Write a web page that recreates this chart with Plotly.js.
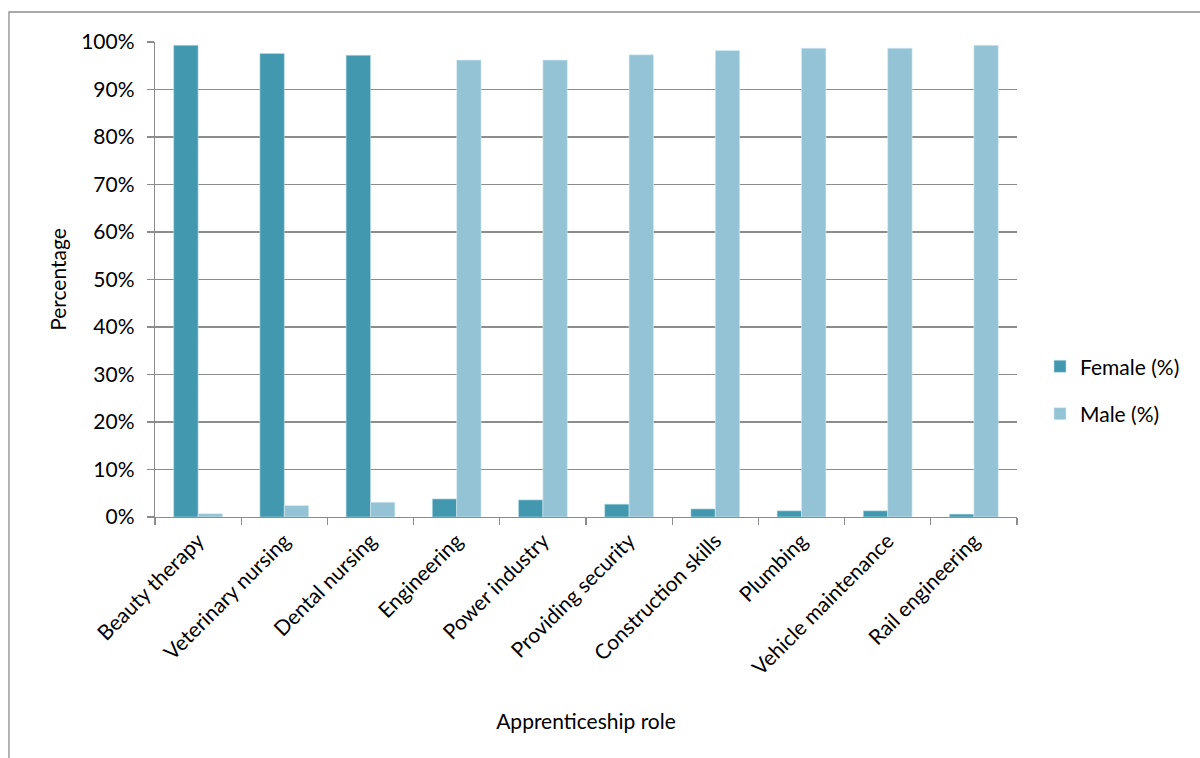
<!DOCTYPE html>
<html>
<head>
<meta charset="utf-8">
<script src="https://cdn.plot.ly/plotly-3.0.1.min.js"></script>
<style>html,body{margin:0;padding:0;background:#fff;}#chart{width:1200px;height:758px;}</style>
</head>
<body>
<div id="chart"></div>
<script>
var roles = ["Beauty therapy", "Veterinary nursing", "Dental nursing", "Engineering", "Power industry",
  "Providing security", "Construction skills", "Plumbing", "Vehicle maintenance", "Rail engineering"];
var femalePct = [99.3, 97.6, 97.2, 3.8, 3.6, 2.7, 1.7, 1.3, 1.3, 0.6];
var malePct = [0.7, 2.4, 3.1, 96.2, 96.2, 97.3, 98.2, 98.7, 98.7, 99.3];
var yTickVals = [0, 10, 20, 30, 40, 50, 60, 70, 80, 90, 100];
var yTickText = ["0%", "10%", "20%", "30%", "40%", "50%", "60%", "70%", "80%", "90%", "100%"];

var font = "Lato, 'Open Sans', sans-serif";
var fs = 21;
var grid = "#8c8c8c";

var traces = [
  {type: "bar", name: "Female (%)", x: roles, y: femalePct, legendgroup: "f",
   marker: {color: "#4198af", line: {color: "#b9dde8", width: 0.6}}},
  {type: "bar", name: "Male (%)", x: roles, y: malePct, legendgroup: "m",
   marker: {color: "#93c3d5", line: {color: "#d6ebf2", width: 0.6}}}
];

var layout = {
  width: 1200, height: 758,
  margin: {l: 155, r: 183, t: 42, b: 241},
  paper_bgcolor: "#fff", plot_bgcolor: "#fff",
  font: {family: font, size: fs, color: "#000"},
  bargap: 0.434, bargroupgap: 0,
  showlegend: true,
  legend: {x: 1.0267, y: 0.267, xanchor: "left", yanchor: "middle",
    font: {family: font, size: fs, color: "#000"}, tracegroupgap: 17,
    traceorder: "grouped", bgcolor: "rgba(0,0,0,0)"},
  xaxis: {
    type: "category", tickson: "boundaries", ticks: "outside", ticklen: 7, tickwidth: 1.3,
    tickcolor: grid, showline: true, linecolor: grid, linewidth: 1.3,
    tickangle: -45, tickfont: {family: font, size: fs}, ticklabelstandoff: 2,
    title: {text: "Apprenticeship role", font: {family: font, size: fs}, standoff: 36},
    automargin: false
  },
  yaxis: {
    range: [0, 100], tickvals: yTickVals, ticktext: yTickText,
    ticks: "outside", ticklen: 7, tickwidth: 1.3, tickcolor: grid,
    showline: true, linecolor: grid, linewidth: 1.3,
    showgrid: true, gridcolor: grid, gridwidth: 1.3, zeroline: false,
    tickfont: {family: font, size: fs}, ticklabelstandoff: 8,
    title: {text: "Percentage", font: {family: font, size: fs}, standoff: 8},
    automargin: false
  },
  shapes: [
    {type: "rect", xref: "paper", yref: "paper", x0: -0.1694, x1: 1.25, y0: -0.56, y1: 1.0632,
     line: {color: "#8c8c8c", width: 1.3}, fillcolor: "rgba(0,0,0,0)", layer: "below"}
  ]
};

Plotly.newPlot("chart", traces, layout, {displayModeBar: false, staticPlot: true});
</script>
</body>
</html>
